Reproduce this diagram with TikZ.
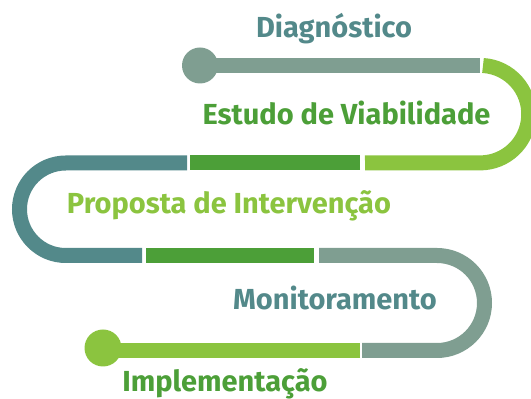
\documentclass[tikz,border=0pt]{standalone}
\usepackage{fontspec}
\setmainfont{Fira Sans}
\usepackage{tikz}
\definecolor{tealc}{HTML}{53898A}
\definecolor{greyc}{HTML}{7F9E91}
\definecolor{greenc}{HTML}{4C9F38}
\definecolor{limec}{HTML}{8BC43F}

\begin{document}
\begin{tikzpicture}[x=1pt, y=1pt,
    band/.style={line width=15pt},
    lbl/.style={anchor=base, inner sep=0pt, font=\bfseries\fontsize{29}{30}\selectfont}]
\useasboundingbox (0,0) rectangle (531,399);
% Define the end points and the dots
\coordinate (start) at (200,333.5);
\coordinate (finish) at (103,48.5);
\fill[greyc] (start) circle (18);
\fill[limec] ([yshift=2.5pt]finish) circle (18.5);
% First row and right bend
\draw[band, greyc] (start) -- (480,333.5);
\draw[band, limec] (483,333.5) arc (86.5:-90:48.75) -- (365,236);
% Second row and left bend
\draw[band, greenc] (360,236) -- (190,236);
\draw[band, tealc] (187,236) -- (65.75,236) arc (90:270:46.25) -- (142,143.5);
% Third row and right bend
\draw[band, greenc] (146,143.5) -- (314,143.5);
\draw[band, greyc] (319,143.5) -- (437,143.5) arc (90:-90:47.5) -- (362,48.5);
% Last row
\draw[band, limec] (360,48.5) -- (finish);
% Add the labels
\node[lbl, text=tealc] (diag) at (334,361.7) {Diagnóstico};
\node[lbl, text=greenc] (estudo) at (346.5,274.7) {Estudo de Viabilidade};
\node[lbl, text=limec] (proposta) at (229,185.7) {Proposta de Intervenção};
\node[lbl, text=tealc] (monit) at (335,89) {Monitoramento};
\node[lbl, text=greenc] (impl) at (225,7.5) {Implementação};
\end{tikzpicture}
\end{document}
